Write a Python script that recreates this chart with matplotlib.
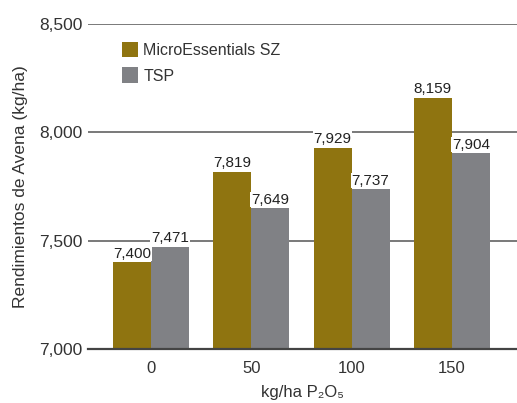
import matplotlib
matplotlib.use("Agg")
import matplotlib.pyplot as plt
import numpy as np

categories = ["0", "50", "100", "150"]
microessentials = [7400, 7819, 7929, 8159]
tsp = [7471, 7649, 7737, 7904]
series_names = ["MicroEssentials SZ", "TSP"]
y_ticks = [7000, 7500, 8000, 8500]

gold = "#8f7410"
gray = "#808185"
narrow = ["Liberation Sans Narrow", "Liberation Sans", "DejaVu Sans"]
regular = ["Liberation Sans", "DejaVu Sans"]

fig = plt.figure(figsize=(5.17, 4.03), dpi=100)
ax = fig.add_axes([0.170, 0.134, 0.830, 0.806])

x = np.arange(len(categories))
w = 0.379
ax.bar(x - w / 2, microessentials, w, color=gold, label=series_names[0], zorder=2)
ax.bar(x + w / 2, tsp, w, color=gray, label=series_names[1], zorder=2)

# value labels on white boxes so they break the gridlines like the original
for offset, vals in ((-w / 2, microessentials), (w / 2, tsp)):
    for xi, v in zip(x, vals):
        ax.text(xi + offset, v + 8, f"{v:,}", ha="center", va="bottom",
                fontsize=11, family=narrow, color="#222222",
                bbox=dict(facecolor="white", edgecolor="none", pad=0.5), zorder=3)

ax.set_ylim(7000, 8500)
ax.set_xlim(-0.628, 3.649)
ax.set_yticks(y_ticks)
ax.set_yticklabels([f"{t:,}" for t in y_ticks], family=narrow, fontsize=12.5, color="#333333")
ax.set_xticks(x)
ax.set_xticklabels(categories, family=regular, fontsize=12, color="#333333")
ax.tick_params(axis="both", length=0)
ax.tick_params(axis="y", pad=4)
ax.tick_params(axis="x", pad=9)

ax.grid(axis="y", color="#555555", linewidth=1.1, zorder=1)
ax.set_axisbelow(True)
for s in ["top", "right", "left"]:
    ax.spines[s].set_visible(False)
ax.spines["bottom"].set_color("#444444")
ax.spines["bottom"].set_linewidth(1.6)

ax.set_ylabel("Rendimientos de Avena (kg/ha)", family=regular, fontsize=12.5, color="#333333", labelpad=8)
ax.set_xlabel("kg/ha P\u2082O\u2085", family=regular, fontsize=12, color="#333333", labelpad=6)

leg = ax.legend(loc="upper left", bbox_to_anchor=(0.045, 0.99), frameon=False,
                prop={"family": narrow, "size": 11.5}, handlelength=1.0, handleheight=1.1,
                handletextpad=0.35, labelspacing=0.6)
for t in leg.get_texts():
    t.set_color("#333333")

fig.savefig("out.png", dpi=100)
